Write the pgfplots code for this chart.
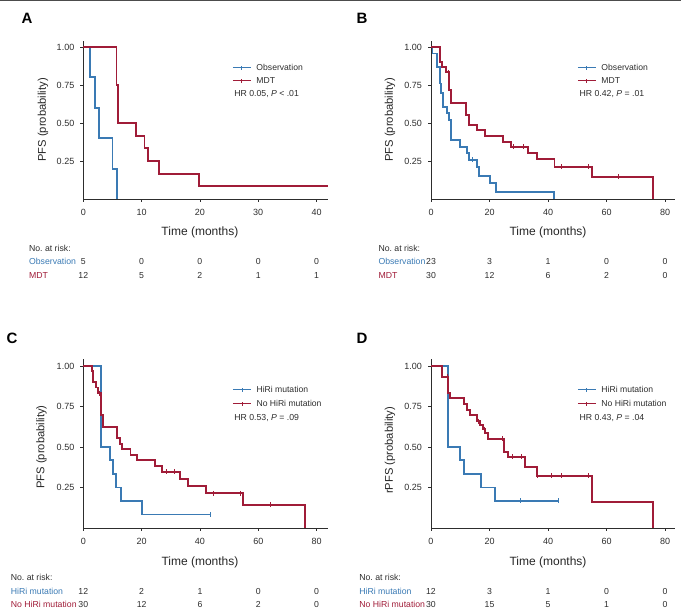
\documentclass[border=0pt]{standalone}
\usepackage{fontspec}
\setmainfont{Liberation Sans}
\usepackage{pgfplots}
\pgfplotsset{compat=1.18}
\frenchspacing
\definecolor{kmblue}{RGB}{58,122,180}
\definecolor{kmred}{RGB}{160,28,56}
\definecolor{axgray}{RGB}{45,45,45}
\pgfplotsset{
  km/.style={
    scale only axis, clip=false,
    axis lines=left, axis line style={-, line width=0.8pt, draw=axgray},
    xmin=0, ymin=0, ymax=1.04,
    ytick={0.25,0.5,0.75,1},
    tick align=outside, major tick length=3pt,
    tick style={line width=0.7pt, draw=axgray},
    ticklabel style={font=\fontsize{9}{10}\selectfont, text=axgray},
    yticklabel style={/pgf/number format/.cd, fixed, fixed zerofill, precision=2, assume math mode=true, /tikz/.cd, xshift=-2.5pt},
    xticklabel style={/pgf/number format/assume math mode=true, yshift=-3.5pt},
    legend cell align=left,
    legend style={draw=none, fill=none, inner sep=0pt, anchor=north west,
      font=\fontsize{8.6}{9}\selectfont,
      nodes={inner sep=0pt, text height=6.2pt, text depth=1.5pt},
      /tikz/every odd column/.style={column sep=5pt}},
  },
  legb/.style={legend image code/.code={\draw[draw=kmblue, line width=1.3pt] (0pt,0pt) -- (18pt,0pt); \draw[draw=kmblue, line width=0.7pt] (9pt,-2.2pt) -- (9pt,2.2pt);}},
  legr/.style={legend image code/.code={\draw[draw=kmred, line width=1.3pt] (0pt,0pt) -- (18pt,0pt); \draw[draw=kmred, line width=0.7pt] (9pt,-2.2pt) -- (9pt,2.2pt);}},
  curveb/.style={const plot, no marks, line width=1.9pt, color=kmblue},
  curver/.style={const plot, no marks, line width=1.9pt, color=kmred},
  censb/.style={only marks, mark=|, mark size=2.5pt, mark options={line width=0.7pt, draw=kmblue}},
  censr/.style={only marks, mark=|, mark size=2.5pt, mark options={line width=0.7pt, draw=kmred}},
}
\newcommand{\tl}{\fontsize{12}{14}\selectfont}
\newcommand{\yl}{\fontsize{11.2}{13}\selectfont}
\newcommand{\rt}{\fontsize{8.7}{10}\selectfont}
\newcommand{\rk}[3]{\node[font=\rt, text=axgray] at (axis cs:#1,#2) {#3};}
\begin{document}
\begin{tikzpicture}
\useasboundingbox (0pt,0pt) rectangle (681pt,615pt);
\draw[gray!60!black, line width=1pt] (0pt,614pt) -- (681pt,614pt);
\node[font=\bfseries\fontsize{15}{15}\selectfont] at (27pt,597pt) {A};
\node[font=\bfseries\fontsize{15}{15}\selectfont] at (362pt,597pt) {B};
\node[font=\bfseries\fontsize{15}{15}\selectfont] at (12pt,277pt) {C};
\node[font=\bfseries\fontsize{15}{15}\selectfont] at (362pt,277pt) {D};

% ---------------- Panel A
\begin{axis}[km, at={(83.3pt,416pt)}, anchor=south west,
  width=244.9pt, height=158.1pt, xmax=42, xtick={0,10,20,30,40},
  legend style={at={(axis cs:25.5,0.89)}, row sep=5.3pt}]
\addlegendimage{legb}\addlegendentry{\textcolor{axgray}{Observation}}
\addlegendimage{legr}\addlegendentry{\textcolor{axgray}{MDT}}
\addplot[curveb, forget plot] coordinates {(0,1)(1.15,0.8)(2.0,0.6)(2.75,0.4)(5.0,0.2)(5.85,0)};
\addplot[curver, forget plot] coordinates {(0,1)(5.7,0.75)(5.9,0.5)(9.0,0.417)(10.5,0.333)(11.1,0.25)(13.0,0.167)(19.9,0.083)(42,0.083)};
\node[anchor=west, font=\rt, text=axgray] at (axis cs:25.3,0.69) {HR 0.05, \textit{P} < .01};
\node[font=\tl, text=black!85] at (axis cs:20,-0.217) {Time (months)};
\node[font=\yl, text=black!85, rotate=90] at (axis cs:-6.9,0.52) {PFS (probability)};
\node[anchor=west, font=\rt, text=axgray] at (axis cs:-9.9,-0.324) {No. at risk:};
\node[anchor=west, font=\rt, text=kmblue] at (axis cs:-9.9,-0.412) {Observation};
\node[anchor=west, font=\rt, text=kmred] at (axis cs:-9.9,-0.504) {MDT};
\rk{0}{-0.412}{5}\rk{10}{-0.412}{0}\rk{20}{-0.412}{0}\rk{30}{-0.412}{0}\rk{40}{-0.412}{0}
\rk{0}{-0.504}{12}\rk{10}{-0.504}{5}\rk{20}{-0.504}{2}\rk{30}{-0.504}{1}\rk{40}{-0.504}{1}
\end{axis}

% ---------------- Panel B
\begin{axis}[km, at={(431pt,416pt)}, anchor=south west,
  width=244pt, height=158.1pt, xmax=83.4, xtick={0,20,40,60,80},
  legend style={at={(axis cs:49.9,0.89)}, row sep=5.3pt}]
\addlegendimage{legb}\addlegendentry{\textcolor{axgray}{Observation}}
\addlegendimage{legr}\addlegendentry{\textcolor{axgray}{MDT}}
\addplot[curveb, forget plot] coordinates {(0,1)(0.5,0.957)(2.05,0.87)(3.1,0.76)(3.4,0.695)(4.2,0.607)(5.4,0.564)(6.2,0.52)(6.8,0.39)(9.9,0.344)(12.2,0.30)(13.0,0.257)(15.6,0.213)(16.4,0.152)(20.2,0.103)(22.1,0.048)(42.1,0)};
\addplot[censb, forget plot] coordinates {(14.0,0.257)};
\addplot[curver, forget plot] coordinates {(0,1)(3.1,0.9)(3.9,0.867)(5.0,0.833)(6.2,0.717)(6.8,0.633)(11.9,0.553)(13.0,0.487)(15.8,0.454)(18.5,0.415)(24.5,0.377)(27.2,0.344)(33.3,0.30)(36.1,0.261)(42.2,0.213)(54.9,0.147)(76.0,0)};
\addplot[censr, forget plot] coordinates {(5.8,0.833)(28.0,0.344)(31.7,0.344)(44.7,0.213)(53.8,0.213)(64.0,0.147)};
\node[anchor=west, font=\rt, text=axgray] at (axis cs:49.6,0.69) {HR 0.42, \textit{P} = .01};
\node[font=\tl, text=black!85] at (axis cs:40,-0.217) {Time (months)};
\node[font=\yl, text=black!85, rotate=90] at (axis cs:-14.0,0.52) {PFS (probability)};
\node[anchor=west, font=\rt, text=axgray] at (axis cs:-19.15,-0.324) {No. at risk:};
\node[anchor=west, font=\rt, text=kmblue] at (axis cs:-19.15,-0.412) {Observation};
\node[anchor=west, font=\rt, text=kmred] at (axis cs:-19.15,-0.504) {MDT};
\rk{0}{-0.412}{23}\rk{20}{-0.412}{3}\rk{40}{-0.412}{1}\rk{60}{-0.412}{0}\rk{80}{-0.412}{0}
\rk{0}{-0.504}{30}\rk{20}{-0.504}{12}\rk{40}{-0.504}{6}\rk{60}{-0.504}{2}\rk{80}{-0.504}{0}
\end{axis}

% ---------------- Panel C
\begin{axis}[km, at={(83.3pt,87pt)}, anchor=south west,
  width=245pt, height=168.5pt, xmax=84, xtick={0,20,40,60,80},
  legend style={at={(axis cs:51.0,0.878)}, row sep=6.3pt}]
\addlegendimage{legb}\addlegendentry{\textcolor{axgray}{HiRi mutation}}
\addlegendimage{legr}\addlegendentry{\textcolor{axgray}{No HiRi mutation}}
\addplot[curveb, forget plot] coordinates {(0,1)(5.95,0.5)(9.1,0.417)(10.3,0.333)(11.1,0.25)(12.9,0.167)(20.1,0.083)(43.4,0.083)};
\addplot[censb, forget plot] coordinates {(43.4,0.083)};
\addplot[curver, forget plot] coordinates {(0,1)(2.9,0.967)(3.4,0.9)(4.35,0.867)(5.15,0.833)(6.05,0.70)(6.9,0.625)(11.7,0.554)(12.6,0.52)(13.2,0.486)(16.2,0.45)(18.5,0.42)(24.6,0.383)(26.9,0.346)(33.1,0.305)(36.0,0.26)(42.1,0.214)(54.9,0.143)(76.0,0)};
\addplot[censr, forget plot] coordinates {(5.6,0.833)(28.4,0.346)(31.2,0.346)(44.6,0.214)(53.7,0.214)(64.0,0.143)};
\node[anchor=west, font=\rt, text=axgray] at (axis cs:50.6,0.68) {HR 0.53, \textit{P} = .09};
\node[font=\tl, text=black!85] at (axis cs:40,-0.21) {Time (months)};
\node[font=\yl, text=black!85, rotate=90] at (axis cs:-14.3,0.5) {PFS (probability)};
\node[anchor=west, font=\rt, text=axgray] at (axis cs:-26.05,-0.304) {No. at risk:};
\node[anchor=west, font=\rt, text=kmblue] at (axis cs:-26.05,-0.393) {HiRi mutation};
\node[anchor=west, font=\rt, text=kmred] at (axis cs:-26.05,-0.471) {No HiRi mutation};
\rk{0}{-0.393}{12}\rk{20}{-0.393}{2}\rk{40}{-0.393}{1}\rk{60}{-0.393}{0}\rk{80}{-0.393}{0}
\rk{0}{-0.471}{30}\rk{20}{-0.471}{12}\rk{40}{-0.471}{6}\rk{60}{-0.471}{2}\rk{80}{-0.471}{0}
\end{axis}

% ---------------- Panel D
\begin{axis}[km, at={(431pt,87pt)}, anchor=south west,
  width=244pt, height=168.5pt, xmax=83.4, xtick={0,20,40,60,80},
  legend style={at={(axis cs:49.9,0.878)}, row sep=6.3pt}]
\addlegendimage{legb}\addlegendentry{\textcolor{axgray}{HiRi mutation}}
\addlegendimage{legr}\addlegendentry{\textcolor{axgray}{No HiRi mutation}}
\addplot[curveb, forget plot] coordinates {(0,1)(5.9,0.5)(9.9,0.417)(11.3,0.333)(17.1,0.25)(21.9,0.167)(43.5,0.167)};
\addplot[censb, forget plot] coordinates {(30.4,0.167)(43.5,0.167)};
\addplot[curver, forget plot] coordinates {(0,1)(3.9,0.933)(5.7,0.833)(6.5,0.80)(11.4,0.765)(12.2,0.728)(13.3,0.697)(15.6,0.66)(16.8,0.636)(17.9,0.61)(18.6,0.585)(19.4,0.55)(25.1,0.471)(26.4,0.44)(32.1,0.378)(36.1,0.323)(54.9,0.158)(76.0,0)};
\addplot[censr, forget plot] coordinates {(5.5,0.933)(16.3,0.66)(18.3,0.61)(24.4,0.55)(27.8,0.44)(31.0,0.44)(36.3,0.323)(41.0,0.323)(44.7,0.323)(53.8,0.323)};
\node[anchor=west, font=\rt, text=axgray] at (axis cs:49.6,0.68) {HR 0.43, \textit{P} = .04};
\node[font=\tl, text=black!85] at (axis cs:40,-0.21) {Time (months)};
\node[font=\yl, text=black!85, rotate=90] at (axis cs:-14.0,0.48) {rPFS (probability)};
\node[anchor=west, font=\rt, text=axgray] at (axis cs:-25.7,-0.304) {No. at risk:};
\node[anchor=west, font=\rt, text=kmblue] at (axis cs:-25.7,-0.393) {HiRi mutation};
\node[anchor=west, font=\rt, text=kmred] at (axis cs:-25.7,-0.471) {No HiRi mutation};
\rk{0}{-0.393}{12}\rk{20}{-0.393}{3}\rk{40}{-0.393}{1}\rk{60}{-0.393}{0}\rk{80}{-0.393}{0}
\rk{0}{-0.471}{30}\rk{20}{-0.471}{15}\rk{40}{-0.471}{5}\rk{60}{-0.471}{1}\rk{80}{-0.471}{0}
\end{axis}
\end{tikzpicture}
\end{document}
